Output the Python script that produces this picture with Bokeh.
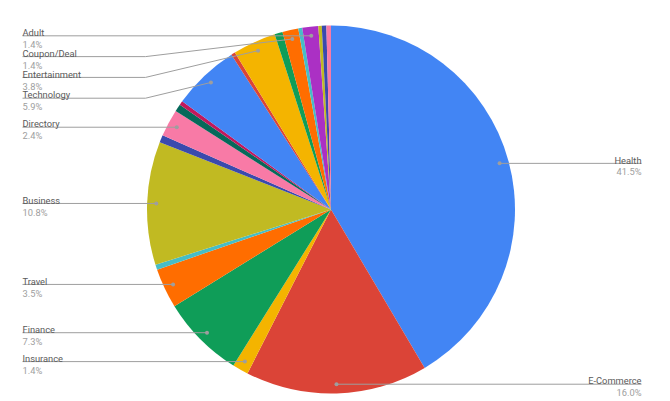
import math
from bokeh.plotting import figure
from bokeh.models import Range1d
from bokeh.embed import file_html
from bokeh.resources import INLINE
from bokeh.core.properties import value

# ---- data (clockwise from 12 o'clock) ----
names = ["Health", "E-Commerce", "Insurance", "Finance", "Travel", "",
         "Business", "", "Directory", "", "", "Technology", "",
         "Entertainment", "", "Coupon/Deal", "", "Adult", "", "", ""]
shares = [41.5, 16.0, 1.4, 7.3, 3.5, 0.45,
          10.8, 0.65, 2.4, 0.65, 0.35, 5.9, 0.35,
          3.8, 0.7, 1.4, 0.35, 1.4, 0.3, 0.4, 0.4]
colors = ["#4285F4", "#DB4437", "#F4B400", "#0F9D58", "#FF6D00", "#46BDC6",
          "#C1BA22", "#3A4AAD", "#F87AA6", "#06695A", "#C2185B", "#4285F4", "#DB4437",
          "#F4B400", "#0F9D58", "#FF6D00", "#46BDC6", "#AB30C4", "#C1BA22", "#3A4AAD", "#F87AA6"]

W, H = 670, 401
def X(xi):  # image px -> data
    return xi
def Y(yi):
    return H - yi

CX, CY, R = X(330.5), Y(209), 184.0
FONT = value("Roboto")
FS = "9.3px"
NAME_C = "#5a5a5a"
PCT_C = "#9e9e9e"
LINE_C = "#9e9e9e"

p = figure(width=W, height=H, output_backend="svg", toolbar_location=None,
           x_range=Range1d(0, W), y_range=Range1d(0, H),
           x_axis_type=None, y_axis_type=None, min_border=0)
p.outline_line_color = None
p.grid.visible = False

total = sum(shares)
starts, ends = [], []
c = 0.0
for s in shares:
    starts.append(math.pi / 2 - 2 * math.pi * c / total)
    c += s
    ends.append(math.pi / 2 - 2 * math.pi * c / total)

p.wedge(x=CX, y=CY, radius=R, start_angle=starts, end_angle=ends,
        direction="clock", fill_color=colors, line_color=None)

# ---- labels ----
left, right = [], []
c = 0.0
for n, s in zip(names, shares):
    mid = (c + s / 2) / total
    c += s
    if not n:
        continue
    a = 2 * math.pi * mid
    dx = CX + 0.95 * R * math.sin(a)
    dy = CY + 0.95 * R * math.cos(a)
    item = dict(name=n, pct=f"{100 * s / total:.1f}%", dx=dx, dy=dy)
    (right if mid < 0.5 else left).append(item)

# resolve collisions on left side (top to bottom)
left.sort(key=lambda d: -d["dy"])
GAP = 20.8
prev = None
for d in left:
    ly = d["dy"]
    if prev is not None and prev - ly < GAP:
        ly = prev - GAP
    d["ly"] = ly
    prev = ly
for d in right:
    d["ly"] = d["dy"]

xs, ys = [], []
tx, ty, tt, tc, ta = [], [], [], [], []
LX = X(22)
RX = X(641)
ELBOW = X(145)
for d in left:
    if abs(d["ly"] - d["dy"]) > 0.5:
        xs.append([LX, ELBOW, d["dx"]])
        ys.append([d["ly"], d["ly"], d["dy"]])
    else:
        xs.append([LX, d["dx"]])
        ys.append([d["ly"], d["dy"]])
    tx += [LX, LX]
    ty += [d["ly"] + 3.3, d["ly"] - 8.6]
    tt += [d["name"], d["pct"]]
    tc += [NAME_C, PCT_C]
    ta += ["left", "left"]
for d in right:
    xs.append([d["dx"], RX])
    ys.append([d["ly"], d["ly"]])
    tx += [RX, RX]
    ty += [d["ly"] + 3.3, d["ly"] - 8.6]
    tt += [d["name"], d["pct"]]
    tc += [NAME_C, PCT_C]
    ta += ["right", "right"]

p.multi_line(xs=xs, ys=ys, line_color=LINE_C, line_width=1)
allpts = left + right
p.scatter(x=[d["dx"] for d in allpts], y=[d["dy"] for d in allpts],
          size=4, fill_color=LINE_C, line_color=None)
p.text(x=tx, y=ty, text=tt, text_color=tc, text_align=ta,
       text_baseline="alphabetic", text_font=FONT, text_font_size=FS)

open("out.html", "w").write(file_html(p, INLINE))
